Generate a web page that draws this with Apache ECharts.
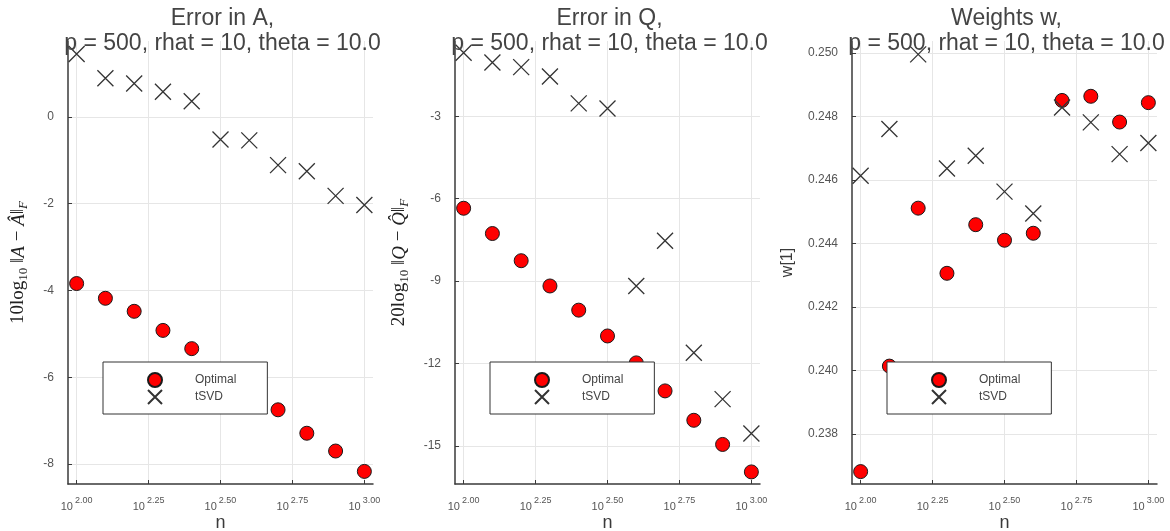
<!DOCTYPE html>
<html><head><meta charset="utf-8">
<script src="https://cdn.jsdelivr.net/npm/echarts@6/dist/echarts.min.js"></script>
<style>html,body{margin:0;padding:0;background:#fff}#c{width:1170px;height:531px}</style>
</head><body><div id="c"></div>
<script>
// ---- data (x = log10 n) ----
const logN = [2.0, 2.1, 2.2, 2.3, 2.4, 2.5, 2.6, 2.7, 2.8, 2.9, 3.0];
const optimalA = [-3.84, -4.18, -4.48, -4.92, -5.34, -5.90, -6.35, -6.75, -7.29, -7.70, -8.17];
const tsvdA = [1.45, 0.89, 0.77, 0.58, 0.36, -0.52, -0.54, -1.11, -1.25, -1.82, -2.03];
const optimalQ = [-6.35, -7.27, -8.26, -9.18, -10.06, -11.00, -11.98, -13.00, -14.07, -14.95, -15.95];
const tsvdQ = [-0.69, -1.04, -1.21, -1.55, -2.53, -2.72, -9.18, -7.53, -11.61, -13.30, -14.55];
const optimalW = [0.23682, 0.24014, 0.24511, 0.24306, 0.24459, 0.24410, 0.24432, 0.24850, 0.24863, 0.24782, 0.24843];
const tsvdW = [0.24613, 0.24760, 0.24995, 0.24636, 0.24676, 0.24563, 0.24494, 0.24828, 0.24781, 0.24681, 0.24716];
const xTickValues = [2.0, 2.25, 2.5, 2.75, 3.0];
const yTicksA = [-8, -6, -4, -2, 0];
const yTicksQ = [-15, -12, -9, -6, -3];
const yTicksW = [0.238, 0.240, 0.242, 0.244, 0.246, 0.248, 0.250];
const seriesNames = ['Optimal', 'tSVD'];
const titles = ['Error in A,\np = 500, rhat = 10, theta = 10.0',
                'Error in Q,\np = 500, rhat = 10, theta = 10.0',
                'Weights w,\np = 500, rhat = 10, theta = 10.0'];

// ---- layout ----
const SANS = '"Liberation Sans", Arial, Helvetica, sans-serif';
const SERIF = '"Liberation Serif", "DejaVu Serif", serif';
const lefts = [68, 455, 852], W = 305, TOP = 41, BOT = 484, H = BOT - TOP;
const xRange = [1.97, 3.03];
const yRanges = [[-8.46, 1.75], [-16.39, -0.26], [0.23643, 0.25037]];
const yTicks = [yTicksA, yTicksQ, yTicksW];
const optData = [optimalA, optimalQ, optimalW];
const tsvdData = [tsvdA, tsvdQ, tsvdW];
const subRich = {
  n: {fontFamily: SERIF, fontSize: 19, color: '#222'},
  i: {fontFamily: SERIF, fontSize: 19, fontStyle: 'italic', color: '#222'},
  s: {fontFamily: SERIF, fontSize: 13, color: '#222', padding: [10, 0, 0, 0]},
  si: {fontFamily: SERIF, fontSize: 13, fontStyle: 'italic', color: '#222', padding: [10, 0, 0, 0]}
};
const yNames = [
  '{n|10log}{s|10}{n| ‖}{i|A}{n| − }{i|Â}{n|‖}{si|F}',
  '{n|20log}{s|10}{n| ‖}{i|Q}{n| − }{i|Q̂}{n|‖}{si|F}',
  'w[1]'
];
const yNameGaps = [38, 44, 56];

const grid = [], xAxis = [], yAxis = [], series = [], title = [], legend = [];
const XMARK = 'path://M0,0L10,10M10,0L0,10';

for (let p = 0; p < 3; p++) {
  const L = lefts[p];
  const [ymin, ymax] = yRanges[p];
  const tk = yTicks[p];
  const tmin = tk[0], tmax = tk[tk.length - 1];
  const tInt = parseFloat((tk[1] - tk[0]).toFixed(6));
  const pxX = W / (xRange[1] - xRange[0]);
  const pxY = H / (ymax - ymin);
  const g0 = grid.length;
  grid.push({left: L, top: TOP, width: W, height: H, containLabel: false, outerBoundsMode: 'none'});
  const xl = L + (xTickValues[0] - xRange[0]) * pxX;
  const xw = (xTickValues[xTickValues.length - 1] - xTickValues[0]) * pxX;
  grid.push({left: xl, top: TOP, width: xw, height: H, containLabel: false, outerBoundsMode: 'none'});
  const yt = TOP + (ymax - tmax) * pxY;
  const yh = (tmax - tmin) * pxY;
  grid.push({left: L, top: yt, width: W, height: yh, containLabel: false, outerBoundsMode: 'none'});

  xAxis.push({gridIndex: g0, type: 'value', min: xRange[0], max: xRange[1],
    axisLine: {show: true, onZero: false, lineStyle: {color: '#3a3a3a', width: 1.5}},
    axisTick: {show: false}, axisLabel: {show: false}, splitLine: {show: false},
    name: 'n', nameLocation: 'middle', nameGap: 30,
    nameTextStyle: {fontFamily: SANS, fontSize: 18, color: '#3a3a3a'}});
  yAxis.push({gridIndex: g0, type: 'value', min: ymin, max: ymax,
    axisLine: {show: true, onZero: false, lineStyle: {color: '#3a3a3a', width: 1.5}},
    axisTick: {show: false}, axisLabel: {show: false}, splitLine: {show: false},
    name: yNames[p], nameLocation: 'middle', nameGap: yNameGaps[p], nameRotate: 90,
    nameTextStyle: p < 2 ? {rich: subRich} : {fontFamily: SANS, fontSize: 16, color: '#3a3a3a'}});
  xAxis.push({gridIndex: g0 + 1, type: 'value', min: xTickValues[0], max: xTickValues[xTickValues.length - 1],
    interval: xTickValues[1] - xTickValues[0],
    axisLine: {show: false, onZero: false},
    axisTick: {show: true, inside: true, length: 4, lineStyle: {color: '#3a3a3a', width: 1}},
    axisLabel: {show: true, margin: 12,
      formatter: v => '{b|10}{s|' + v.toFixed(2) + '}',
      rich: {b: {fontFamily: SANS, fontSize: 11, color: '#555'},
             s: {fontFamily: SANS, fontSize: 9, color: '#555', padding: [0, 0, 13, 2]}}},
    splitLine: {show: true, lineStyle: {color: '#e6e6e6', width: 1}}});
  yAxis.push({gridIndex: g0 + 1, type: 'value', min: 0, max: 1, show: false});
  xAxis.push({gridIndex: g0 + 2, type: 'value', min: 0, max: 1, show: false});
  yAxis.push({gridIndex: g0 + 2, type: 'value', min: tmin, max: tmax, interval: tInt,
    axisLine: {show: false, onZero: false},
    axisTick: {show: true, inside: true, length: 4, lineStyle: {color: '#3a3a3a', width: 1}},
    axisLabel: {show: true, margin: 14, fontFamily: SANS, fontSize: 12, color: '#555',
      formatter: v => p === 2 ? v.toFixed(3) : String(Math.round(v))},
    splitLine: {show: true, lineStyle: {color: '#e6e6e6', width: 1}}});

  series.push({type: 'scatter', name: seriesNames[0], xAxisIndex: g0, yAxisIndex: g0,
    data: logN.map((x, k) => [x, optData[p][k]]), symbol: 'circle', symbolSize: 14,
    itemStyle: {color: '#ff0000', borderColor: '#1a1a1a', borderWidth: 1, opacity: 1},
    emphasis: {disabled: true}, z: 3});
  series.push({type: 'scatter', name: seriesNames[1], xAxisIndex: g0, yAxisIndex: g0,
    data: logN.map((x, k) => [x, tsvdData[p][k]]), symbol: XMARK, symbolSize: 16,
    itemStyle: {color: 'rgba(0,0,0,0)', borderColor: '#333', borderWidth: 1.3, opacity: 1},
    emphasis: {disabled: true}, z: 4});

  title.push({text: titles[p], left: L + W / 2 - 3, top: 1, textAlign: 'center',
    textStyle: {fontFamily: SANS, fontSize: 23, fontWeight: 'normal', color: '#444', lineHeight: 25}});
  legend.push({data: seriesNames, orient: 'vertical', left: L + 35, top: 362,
    padding: [10, 31, 9, 44], itemWidth: 70, itemHeight: 14, itemGap: 1,
    borderColor: '#333', borderWidth: 1, backgroundColor: '#fff', borderRadius: 0,
    selectedMode: false,
    textStyle: {fontFamily: SANS, fontSize: 12, color: '#444'}});
}

const chart = echarts.init(document.getElementById('c'), null, {renderer: 'canvas'});
chart.setOption({animation: false, backgroundColor: '#fff', title, legend, grid, xAxis, yAxis, series, tooltip: {show: false}});
</script>
</body></html>
